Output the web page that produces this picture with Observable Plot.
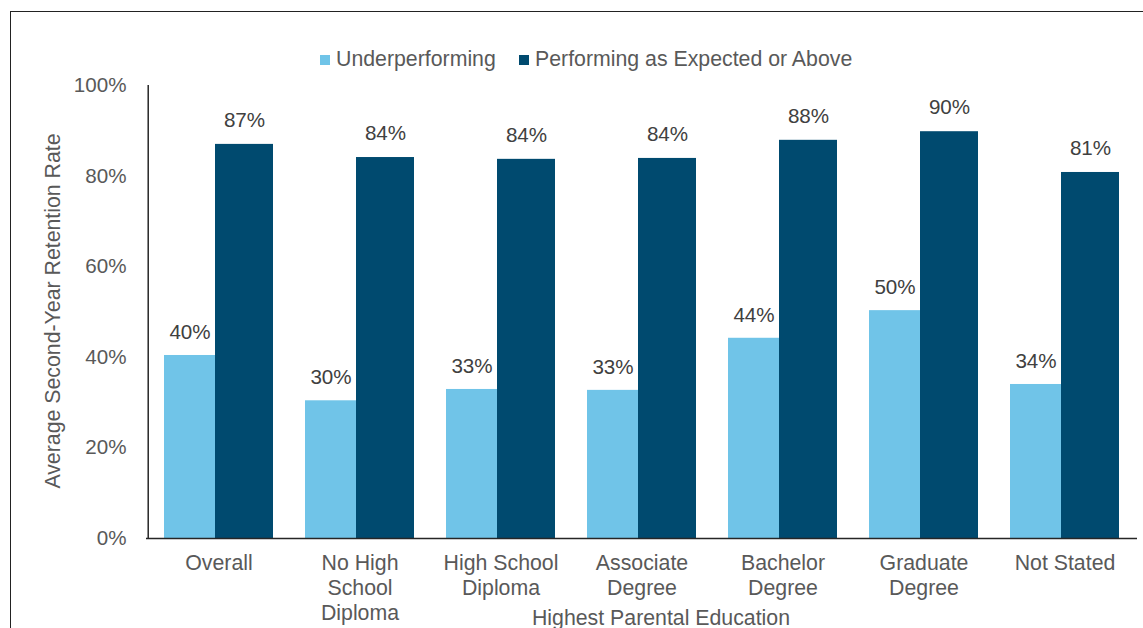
<!DOCTYPE html>
<html>
<head>
<meta charset="utf-8">
<script src="https://cdn.jsdelivr.net/npm/d3@7"></script>
<script src="https://cdn.jsdelivr.net/npm/@observablehq/plot@0.6"></script>
<style>
  html, body { margin: 0; padding: 0; background: #fff; }
  #wrap { position: relative; width: 1143px; height: 628px; overflow: hidden; font-family: "Liberation Sans", Arial, sans-serif; }
  #frame { position: absolute; left: 10px; top: 11px; width: 1200px; height: 700px; border-top: 1.5px solid #222; border-left: 1.5px solid #222; pointer-events: none; }
  #chart { position: absolute; left: 0; top: 0; }
  #legend { position: absolute; top: 47px; left: 0; width: 1143px; height: 24px; font-size: 21.3px; color: #595959; }
  .item { position: absolute; top: 0; line-height: 24px; white-space: nowrap; }
  .sw { display: inline-block; width: 10px; height: 10px; margin-right: 6px; vertical-align: 1px; }
</style>
</head>
<body>
<div id="wrap">
  <div id="chart"></div>
  <div id="legend"></div>
  <div id="frame"></div>
</div>
<script>
const categories = ["Overall", "No High School Diploma", "High School Diploma", "Associate Degree", "Bachelor Degree", "Graduate Degree", "Not Stated"];
const tickLabels = ["Overall", "No High\nSchool\nDiploma", "High School\nDiploma", "Associate\nDegree", "Bachelor\nDegree", "Graduate\nDegree", "Not Stated"];
const seriesNames = ["Underperforming", "Performing as Expected or Above"];
const underperforming = [40.4, 30.4, 32.9, 32.7, 44.2, 50.3, 34.0];
const performing = [87.0, 84.1, 83.7, 83.9, 87.9, 89.8, 80.8];
const yTicks = [0, 20, 40, 60, 80, 100];
const colors = ["#70C4E8", "#004A6F"];
const xTitle = "Highest Parental Education";
const yTitle = "Average Second-Year Retention Rate";

const under = categories.map((c, i) => ({category: c, value: underperforming[i]}));
const perf = categories.map((c, i) => ({category: c, value: performing[i]}));

const FONT = "Liberation Sans, Arial, sans-serif";
const W = 1143, H = 628, ML = 146, MR = 6, MT = 85, MB = 90;
const pIn = 0.23, pOut = 0.115;
const step = (W - ML - MR) / (categories.length - pIn + 2 * pOut);
const bw = step * (1 - pIn);
const lightW = bw * 51 / 109;
const darkW = bw - lightW;
const TXT = 21.3, NUM = 20.6;

const chart = Plot.plot({
  width: W, height: H,
  marginLeft: ML, marginRight: MR, marginTop: MT, marginBottom: MB,
  style: {fontFamily: FONT, fontSize: "20px", color: "#595959", background: "transparent"},
  x: {domain: categories, paddingInner: pIn, paddingOuter: pOut, axis: null},
  y: {domain: [0, 100], axis: null},
  marks: [
    Plot.barY(under, {x: "category", y: "value", fill: colors[0], insetRight: darkW}),
    Plot.barY(perf, {x: "category", y: "value", fill: colors[1], insetLeft: lightW}),
    Plot.text(under, {x: "category", y: "value", text: d => Math.round(d.value) + "%", dx: -(bw / 2 - lightW / 2), dy: -23, fontSize: NUM, fill: "#404040"}),
    Plot.text(perf, {x: "category", y: "value", text: d => Math.round(d.value) + "%", dx: (bw / 2 - darkW / 2), dy: -24, fontSize: NUM, fill: "#404040"}),
    Plot.ruleY([0], {stroke: "#262626", strokeWidth: 1.5}),
    Plot.ruleX([categories[0]], {y1: 0, y2: 100, dx: -(pOut * step + bw / 2), stroke: "#262626", strokeWidth: 1.5}),
    Plot.text(yTicks, {y: d => d, text: d => d + "%", frameAnchor: "left", dx: -20, textAnchor: "end", fontSize: NUM, fill: "#595959"}),
    Plot.text(categories, {x: d => d, text: (d, i) => tickLabels[i], frameAnchor: "bottom", lineAnchor: "top", dy: 14, lineHeight: 1.17, fontSize: TXT, fill: "#595959"}),
    Plot.text([xTitle], {text: d => d, frameAnchor: "bottom", dy: 86, dx: 19, fontSize: TXT, fill: "#595959"}),
    Plot.text([yTitle], {text: d => d, frameAnchor: "left", textAnchor: "middle", rotate: -90, dx: -93, dy: -1, fontSize: TXT, fill: "#595959"})
  ]
});
document.getElementById("chart").appendChild(chart);

const legend = document.getElementById("legend");
const legendX = [320, 519];
seriesNames.forEach((name, i) => {
  const item = document.createElement("div");
  item.className = "item";
  item.style.left = legendX[i] + "px";
  const sw = document.createElement("span");
  sw.className = "sw";
  sw.style.background = colors[i];
  item.appendChild(sw);
  item.appendChild(document.createTextNode(name));
  legend.appendChild(item);
});
</script>
</body>
</html>
